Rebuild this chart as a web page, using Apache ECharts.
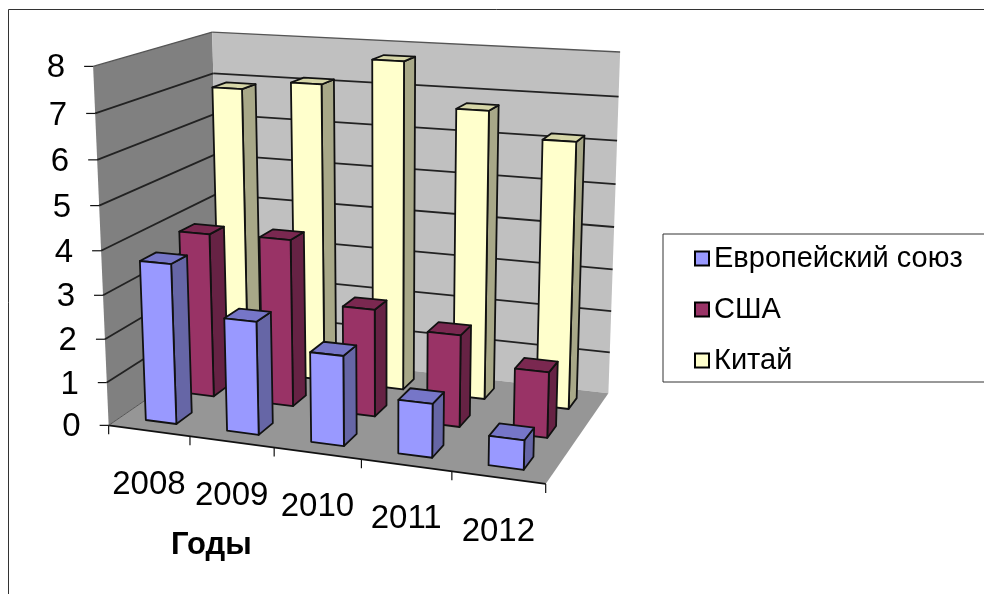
<!DOCTYPE html>
<html><head><meta charset="utf-8">
<style>html,body{margin:0;padding:0;background:#fff}#c{width:984px;height:594px}</style>
<script src="https://cdn.jsdelivr.net/npm/echarts@6/dist/echarts.min.js"></script>
</head><body><div id="c"></div>
<script>
const years = ['2008','2009','2010','2011','2012'];
const yTicks = [0,1,2,3,4,5,6,7,8];
const seriesNames = ['Европейский союз','США','Китай'];
const euValues = [3.68,2.58,2.03,1.2,0.65];
const usaValues = [3.88,3.92,2.5,2.12,1.5];
const chinaValues = [6.9,7.12,7.75,6.75,6.18];

const FONT = '"Liberation Sans", Arial, sans-serif';
const NC = years.length, VMAX = 8;
// camera calibration: (u along years, v along values, w depth 0..1) -> screen
const calib = [
 [0,0,0,108,424],[0,8,0,93,67],[0,0,1,222,350],[0,8,1,213,32],
 [5,0,1,608,392],[5,8,1,620,52],[5,0,0,546,485],
 [1,0,0,190,437],[2,0,0,274,448],[3,0,0,361,459],[4,0,0,452,471],
 [0,4,1,214,194],[0,7,1,213,73],[5,7,1,619,97],[0,4,0,102,250]
];
function solveCamera(pts){
  const n=11, A=Array.from({length:n},()=>new Array(n+1).fill(0));
  const add=(r,b)=>{for(let i=0;i<n;i++){for(let j=0;j<n;j++)A[i][j]+=r[i]*r[j];A[i][n]+=r[i]*b;}};
  pts.forEach(([u,v,w,x,y])=>{
    add([u,v,w,1,0,0,0,0,-x*u,-x*v,-x*w],x);
    add([0,0,0,0,u,v,w,1,-y*u,-y*v,-y*w],y);
  });
  for(let c=0;c<n;c++){
    let p=c;for(let r=c+1;r<n;r++)if(Math.abs(A[r][c])>Math.abs(A[p][c]))p=r;
    [A[c],A[p]]=[A[p],A[c]];
    for(let r=0;r<n;r++){if(r===c)continue;const f=A[r][c]/A[c][c];for(let k=c;k<=n;k++)A[r][k]-=f*A[c][k];}
  }
  return A.map((row,i)=>row[n]/row[i]);
}
const P = solveCamera(calib);
function proj(u,v,w){
  const d=P[8]*u+P[9]*v+P[10]*w+1;
  return [(P[0]*u+P[1]*v+P[2]*w+P[3])/d,(P[4]*u+P[5]*v+P[6]*w+P[7])/d];
}
function poly(points,fill,stroke,lw){
  return {type:'polygon',shape:{points},style:{fill,stroke:stroke||'none',lineWidth:lw||0,lineJoin:'round'}};
}
function line(a,b,stroke,lw){
  return {type:'line',shape:{x1:a[0],y1:a[1],x2:b[0],y2:b[1]},style:{stroke,lineWidth:lw}};
}
function toU(params,px){const r=params.coordSys;return (px-r.x)/r.width*NC;}
function toV(params,py){const r=params.coordSys;return (r.y+r.height-py)/r.height*VMAX;}

const BAR_W=0.38, DEPTH_ROWS=3, DEPTH_FILL=0.40;
const faceColors=[
 {front:'#9999FF',side:'#6666A6',top:'#7676C8'},
 {front:'#993366',side:'#662244',top:'#7A2850'},
 {front:'#FFFFCC',side:'#A8A888',top:'#D6D6A8'}
];
function barRenderer(row){
  return function(params,api){
    const c=api.coord([api.value(0),api.value(1)]);
    const uc=toU(params,c[0]), top=toV(params,c[1]);
    const u0=uc-BAR_W/2,u1=uc+BAR_W/2;
    const cell=1/DEPTH_ROWS, w0=(row+0.5-DEPTH_FILL/2)*cell, w1=(row+0.5+DEPTH_FILL/2)*cell;
    const col=faceColors[row], S='#111', L=1.8;
    return {type:'group',children:[
      poly([proj(u1,0,w0),proj(u1,0,w1),proj(u1,top,w1),proj(u1,top,w0)],col.side,S,L),
      poly([proj(u0,top,w0),proj(u1,top,w0),proj(u1,top,w1),proj(u0,top,w1)],col.top,S,L),
      poly([proj(u0,0,w0),proj(u1,0,w0),proj(u1,top,w0),proj(u0,top,w0)],col.front,S,L)
    ]};
  };
}
function sceneRenderer(params,api){
  const ch=[];
  const W=NC;
  ch.push(poly([proj(0,0,0),proj(0,VMAX,0),proj(0,VMAX,1),proj(0,0,1)],'#808080'));
  ch.push(poly([proj(0,0,1),proj(0,VMAX,1),proj(W,VMAX,1),proj(W,0,1)],'#C0C0C0'));
  ch.push(poly([proj(0,0,0),proj(W,0,0),proj(W,0,1),proj(0,0,1)],'#969696'));
  yTicks.forEach(t=>{
    const pos=api.coord([0,t]); const v=toV(params,pos[1]);
    if(v>0.01 && v<VMAX-0.01){
      ch.push(line(proj(0,v,0),proj(0,v,1),'#222',1.8));
      ch.push(line(proj(0,v,1),proj(W,v,1),'#222',1.8));
    }
  });
  ch.push(line(proj(0,VMAX,0),proj(0,VMAX,1),'#555',1.3));
  ch.push(line(proj(0,VMAX,1),proj(W,VMAX,1),'#555',1.3));
  ch.push(line(proj(0,0,0),proj(W,0,0),'#111',1.8));
  ch.push(line(proj(0,0,0),proj(0,0,1),'#555',1));
  return {type:'group',children:ch};
}
function yLabelRenderer(params,api){
  const t=api.value(1);
  const pos=api.coord([0,t]); const v=toV(params,pos[1]);
  const p=proj(0,v,0);
  return {type:'group',children:[
    line([p[0]-9,p[1]],p,'#111',1.2),
    {type:'text',style:{text:String(t),x:p[0]-28,y:p[1]+2,align:'right',verticalAlign:'middle',font:'33px '+FONT,fill:'#000'}}
  ]};
}
function xLabelRenderer(params,api){
  const i=api.value(0);
  const c=api.coord([i,0]);
  const uc=toU(params,c[0]);
  const edge=proj(uc-0.5,0,0), mid=proj(uc,0,0);
  const ch=[line(edge,[edge[0],edge[1]+9],'#111',1.2),
    {type:'text',style:{text:years[i],x:mid[0],y:mid[1]+54,align:'center',verticalAlign:'middle',font:'33px '+FONT,fill:'#000'}}];
  if(i===NC-1){const e=proj(NC,0,0);ch.push(line(e,[e[0],e[1]+9],'#111',1.2));}
  return {type:'group',children:ch};
}
const rows=[euValues,usaValues,chinaValues];
const barSeries=seriesNames.map((name,r)=>({
  type:'custom',name,z:4-r+1,coordinateSystem:'cartesian2d',silent:true,
  renderItem:barRenderer(r),encode:{x:0,y:1},
  itemStyle:{color:faceColors[r].front},
  data:years.map((y,i)=>[y,rows[r][i]])
}));
const chart=echarts.init(document.getElementById('c'),null,{renderer:'canvas'});
chart.setOption({
  animation:false,
  backgroundColor:'#fff',
  title:{text:'Годы',left:171,top:530,padding:0,textStyle:{fontFamily:FONT,fontSize:31,fontWeight:'bold',color:'#000'}},
  grid:{left:108,top:67,width:438,height:358,containLabel:false},
  xAxis:{type:'category',data:years,show:false},
  yAxis:{type:'value',min:0,max:VMAX,interval:1,show:false},
  legend:{
    orient:'vertical',left:663,top:234,padding:[10,60,7,31],itemGap:22,
    itemWidth:14,itemHeight:14,icon:'rect',borderColor:'#333',borderWidth:1,
    itemStyle:{borderColor:'#000',borderWidth:2},
    textStyle:{fontFamily:FONT,fontSize:29,color:'#000'},
    data:seriesNames,selectedMode:false
  },
  graphic:[{type:'rect',z:0,silent:true,shape:{x:8.5,y:9.5,width:1100,height:700},style:{fill:'none',stroke:'#333',lineWidth:1}}],
  series:[
    {type:'custom',name:'scene',z:1,silent:true,renderItem:sceneRenderer,encode:{x:0,y:1},data:[[years[0],0]]},
    {type:'custom',name:'yLabels',z:1,silent:true,renderItem:yLabelRenderer,encode:{x:0,y:1},data:yTicks.map(t=>[years[0],t])},
    {type:'custom',name:'xLabels',z:1,silent:true,renderItem:xLabelRenderer,encode:{x:0,y:1},data:years.map(y=>[y,0])},
    ...barSeries
  ]
});
</script></body></html>
